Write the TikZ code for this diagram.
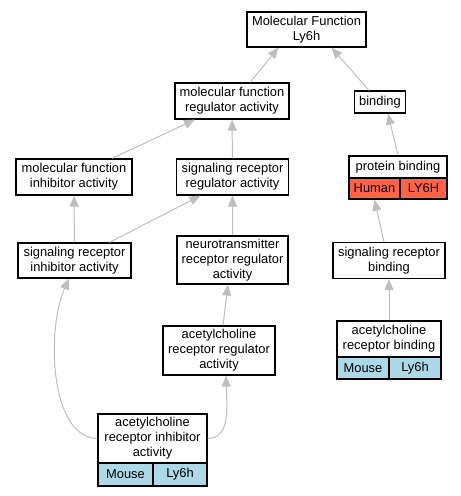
\documentclass[tikz,border=0pt]{standalone}
\usepackage{fontspec}
\setmainfont{Liberation Sans}
\usetikzlibrary{arrows.meta}
\definecolor{edgegray}{HTML}{BEBEBE}
\definecolor{humanred}{HTML}{FF6347}
\definecolor{mouseblue}{HTML}{ADD8E6}
\begin{document}
\begin{tikzpicture}[x=1pt,y=-1pt,
  term/.style={draw=black, line width=1.2pt, fill=white, inner sep=0pt, align=center, font=\fontsize{12.9}{15}\selectfont},
  cellh/.style={term, fill=humanred},
  cellm/.style={term, fill=mouseblue},
  isa/.style={draw=edgegray, line width=1pt, -{Triangle[length=11pt,width=9pt,fill=edgegray]}}]
\useasboundingbox (0,0) rectangle (461,496);
% terms
\node[term, minimum width=119pt, minimum height=35pt] (mf) at (306.5,29.5) {Molecular Function\\Ly6h};
\node[term, minimum width=114pt, minimum height=36pt] (mfra) at (232,101) {molecular function\\regulator activity};
\node[term, minimum width=51pt, minimum height=22pt] (bind) at (380,102) {binding};
\node[term, minimum width=116pt, minimum height=36pt] (mfia) at (74,177) {molecular function\\inhibitor activity};
\node[term, minimum width=112pt, minimum height=36pt] (srra) at (232.5,177) {signaling receptor\\regulator activity};
\node[term, minimum width=113pt, minimum height=35pt] (sria) at (74.5,260.5) {signaling receptor\\inhibitor activity};
\node[term, minimum width=111pt, minimum height=48pt] (ntrra) at (232.5,260) {neurotransmitter\\receptor regulator\\activity};
\node[term, minimum width=112pt, minimum height=49pt] (achrra) at (219,350.5) {acetylcholine\\receptor regulator\\activity};
\node[term, minimum width=112pt, minimum height=36pt] (srb) at (389,260.5) {signaling receptor\\binding};
% protein binding table
\node[term, minimum width=98pt, minimum height=22pt] (pb) at (398,167) {protein binding};
\node[cellh, minimum width=51pt, minimum height=21pt] (pbh) at (374.5,188.5) {Human};
\node[cellh, minimum width=47pt, minimum height=21pt] (pbg) at (423.5,188.5) {LY6H};
% acetylcholine receptor binding table
\node[term, minimum width=104pt, minimum height=36pt] (achrb) at (389,339) {acetylcholine\\receptor binding};
\node[cellm, minimum width=52pt, minimum height=22pt] (achrbm) at (363,368) {Mouse};
\node[cellm, minimum width=52pt, minimum height=22pt] (achrbg) at (415,368) {Ly6h};
% acetylcholine receptor inhibitor activity table
\node[term, minimum width=109pt, minimum height=49pt] (achria) at (152.5,438.5) {acetylcholine\\receptor inhibitor\\activity};
\node[cellm, minimum width=55pt, minimum height=23pt] (achriam) at (125.5,474.5) {Mouse};
\node[cellm, minimum width=54pt, minimum height=23pt] (achriag) at (180,474.5) {Ly6h};
% edges
\draw[isa] ([xshift=18pt]mfra.north) -- ([xshift=-28pt]mf.south);
\draw[isa] ([xshift=-11pt]bind.north) -- ([xshift=25pt]mf.south);
\draw[isa] ([xshift=38pt]mfia.north) -- ([xshift=-37pt]mfra.south);
\draw[isa] (srra) -- (mfra);
\draw[isa] (sria) -- (mfia);
\draw[isa] ([xshift=35pt]sria.north) -- ([xshift=-32pt]srra.south);
\draw[isa] (ntrra) -- (srra);
\draw[isa] ([xshift=4pt]achrra.north) -- ([xshift=-4.5pt]ntrra.south);
\draw[isa] (achria.west) .. controls (50,438) and (46,330) .. ([xshift=-5.5pt]sria.south);
\draw[isa] (achria.east) .. controls (230,438) and (227,410) .. ([xshift=7pt]achrra.south);
\draw[isa] (pb.north) -- ([xshift=8pt]bind.south);
\draw[isa] ([xshift=-5pt]srb.north) -- (pbh.south);
\draw[isa] (achrb) -- (srb);
\end{tikzpicture}
\end{document}
